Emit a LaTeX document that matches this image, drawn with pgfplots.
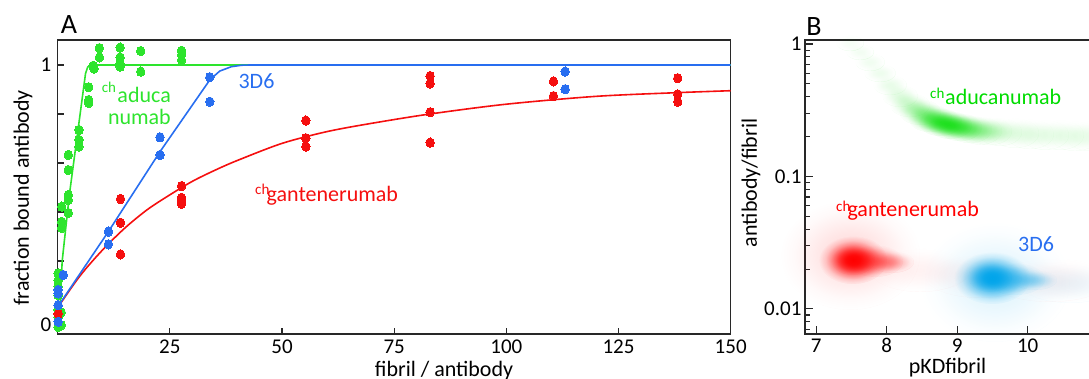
\documentclass[border=0pt]{standalone}
\usepackage{pgfplots}
\pgfplotsset{compat=1.18}
\usepackage{fontspec}
\setmainfont{Carlito}
\usetikzlibrary{fadings}
\definecolor{cgreen}{RGB}{45,228,45}
\definecolor{cred}{RGB}{245,15,15}
\definecolor{cblue}{RGB}{40,110,240}
\definecolor{bgreen}{RGB}{0,220,0}
\definecolor{bred}{RGB}{255,0,0}
\definecolor{bblue}{RGB}{0,165,235}
\definecolor{axc}{RGB}{40,40,40}
\newcommand\lab{\fontsize{22}{26}\selectfont}
\newcommand\supf{\fontsize{15}{17}\selectfont}

\pgfdeclareradialshading{glowshade}{\pgfpointorigin}{color(0bp)=(white); color(5bp)=(white!92!black); color(10bp)=(white!70!black); color(15bp)=(white!42!black); color(20bp)=(white!15!black); color(25bp)=(black); color(50bp)=(black)}
\pgfdeclarefading{glow}{\pgfuseshading{glowshade}}
\pgfdeclareplotmark{glowR}{\fill[bred, fill opacity=\glowop, path fading=glow] (0pt,0pt) ellipse [x radius=\glowrx pt, y radius=\glowry pt];}
\pgfdeclareplotmark{glowG}{\fill[bgreen, fill opacity=\glowop, path fading=glow] (0pt,0pt) ellipse [x radius=\glowrx pt, y radius=\glowry pt];}
\pgfdeclareplotmark{glowB}{\fill[bblue, fill opacity=\glowop, path fading=glow] (0pt,0pt) ellipse [x radius=\glowrx pt, y radius=\glowry pt];}

\pgfplotsset{
  glowplot/.style={only marks, scatter, mark=#1,
    scatter/@pre marker code/.code={}, scatter/@post marker code/.code={},
    visualization depends on={\thisrow{rx}\as\glowrx},
    visualization depends on={\thisrow{ry}\as\glowry},
    visualization depends on={\thisrow{op}\as\glowop}},
  dots/.style={color=#1, only marks, mark=*, mark size=4.2pt, mark options={draw=#1, fill=#1, line width=0pt, yscale=1.12}},
}

\pgfplotstableread{
x y rx ry op
7.481 1.017 14 8 0.04
7.623 0.870 14 8 0.05
7.764 0.731 15 9 0.06
7.906 0.604 16 9 0.07
8.048 0.490 17 10 0.09
8.190 0.405 18 11 0.13
8.331 0.346 20 12 0.20
8.473 0.307 21 13 0.32
8.615 0.276 22 14 0.50
8.757 0.258 22 14 0.68
8.898 0.245 22 14 0.70
9.040 0.236 22 14 0.55
9.182 0.228 22 14 0.38
9.324 0.222 22 14 0.25
9.465 0.220 22 14 0.16
9.607 0.217 22 14 0.11
9.820 0.213 24 15 0.08
10.032 0.209 24 15 0.07
10.245 0.206 24 15 0.06
10.458 0.206 24 15 0.06
10.670 0.202 24 15 0.06
10.884 0.202 24 15 0.06
}\greenband

\pgfplotstableread{
x y rx ry op
7.481 0.02556 70 55 0.14
8.473 0.01969 50 22 0.05
9.324 0.01774 55 22 0.05
10.316 0.01656 60 22 0.05
7.523 0.02343 34 24 1.0
7.835 0.02302 28 16 0.5
8.076 0.02263 22 11 0.3
7.523 0.02343 22 15 0.6
}\redblob

\pgfplotstableread{
x y rx ry op
9.536 0.01599 75 60 0.13
10.599 0.01571 50 20 0.08
9.494 0.01714 38 26 1.0
9.820 0.01684 30 16 0.5
10.103 0.01656 22 10 0.3
9.465 0.01744 22 15 0.5
}\blueblob

\begin{document}
\begin{tikzpicture}
\begin{axis}[
  at={(57.7pt,45pt)}, anchor=south west, scale only axis,
  width=673pt, height=294pt,
  xmin=0, xmax=150, ymin=-0.098, ymax=1.102,
  axis line style={axc, line width=1.2pt},
  tick style={axc, line width=1.1pt},
  tick align=inside, tick pos=left,
  major tick length=6pt,
  xtick={25,50,75,100,125,150}, xticklabels={25,50,75,100,125,150},
  ytick={0,0.2,0.4,0.6,0.8,1}, yticklabels={,,,,,1},
  extra y ticks={-0.061}, extra y tick labels={0},
  extra y tick style={major tick length=0pt},
  ticklabel style={font=\fontsize{21}{25}\selectfont},
  xticklabel style={yshift=-2pt}, yticklabel style={xshift=-3pt},
  clip=false,
]
% green fit line
\addplot[cgreen, line width=1.6pt] coordinates {
(0.5,0.0) (1.0,0.2) (2.6,0.47) (6.2,0.965) (6.7,0.992) (7.5,1.0) (150,1.0)};
% green points
\addplot[dots=cgreen] coordinates {
(0.1,0.15) (0.1,0.12) (0.1,0.095) (0.1,0.06) (0.1,0.0) (0.1,-0.03) (0.1,-0.07)
(0.8,-0.01) (0.8,-0.062)
(0.9,0.422) (0.9,0.36) (0.9,0.335)
(2.36,0.633) (2.36,0.571) (2.36,0.469) (2.36,0.449) (2.36,0.396)
(4.74,0.735) (4.74,0.694) (4.74,0.667)
(6.9,0.909) (6.9,0.857) (6.9,0.845)
(7.9,0.997) (8.1,0.985)
(9.3,1.069) (9.3,1.031)
(13.9,1.071) (13.9,1.031) (13.9,1.007) (13.9,0.993)
(18.5,1.057) (18.5,0.973)
(27.6,1.058) (27.6,1.041) (27.6,1.02)};
% red fit line
\addplot[cred, line width=1.6pt, smooth] coordinates {
(0,0.01) (5,0.14) (10,0.245) (15,0.335) (20,0.41) (25,0.47) (30,0.525)
(35,0.57) (40,0.61) (50,0.68) (60,0.728) (70,0.762) (83,0.80) (100,0.84)
(120,0.872) (138,0.887) (150,0.895)};
% blue fit line
\addplot[cblue, line width=1.6pt] coordinates {
(0,0.013) (11.3,0.32) (22.8,0.646) (33.9,0.939) (36.1,0.975) (38.7,0.993)
(41,0.999) (43,1.0) (150,1.0)};
% red points
\addplot[dots=cred] coordinates {
(0.1,-0.016)
(14.0,0.453) (14.0,0.356) (14.0,0.227)
(27.6,0.506) (27.6,0.458) (27.6,0.442) (27.6,0.433)
(55.3,0.773) (55.3,0.701) (55.3,0.667)
(83.0,0.955) (83.0,0.925) (83.0,0.807) (83.0,0.683)
(110.5,0.933) (110.5,0.873)
(138.2,0.946) (138.2,0.880) (138.2,0.850)};
% blue points
\addplot[dots=cblue] coordinates {
(1.25,0.143) (0.1,0.082) (0.1,0.068) (0.1,0.02) (0.1,-0.048)
(11.3,0.320) (11.3,0.268) (22.8,0.705) (22.8,0.633)
(33.9,0.950) (33.9,0.850) (113.1,0.973) (113.1,0.901)};
\end{axis}

\begin{axis}[
  at={(805pt,45pt)}, anchor=south west, scale only axis,
  width=289.75pt, height=294pt,
  xmin=6.843, xmax=10.95, ymode=log, ymin=0.00647, ymax=1.072,
  axis line style={axc, line width=1.2pt},
  tick style={axc, line width=1.1pt},
  tick align=inside, tick pos=left,
  major tick length=8pt, minor tick length=4.5pt,
  xtick={7,8,9,10}, xticklabels={7,8,9,10},
  ytick={0.01,0.1,1}, yticklabels={0.01,0.1,1},
  minor ytick={0.007,0.008,0.009,0.02,0.03,0.04,0.05,0.06,0.07,0.08,0.09,0.2,0.3,0.4,0.5,0.6,0.7,0.8,0.9},
  ticklabel style={font=\fontsize{21}{25}\selectfont},
  xticklabel style={yshift=-1pt}, yticklabel style={xshift=0pt},
]
\addplot[glowplot=glowG] table[x=x,y=y] {\greenband};
\addplot[glowplot=glowR] table[x=x,y=y] {\redblob};
\addplot[glowplot=glowB] table[x=x,y=y] {\blueblob};
\end{axis}

% panel letters and axis labels
\node[font=\fontsize{28}{30}\selectfont, inner sep=0] at (69pt,354pt) {A};
\node[font=\fontsize{28}{30}\selectfont, inner sep=0] at (814pt,352pt) {B};
\node[rotate=90, font=\lab, inner sep=0] at (23pt,181pt) {fraction bound antibody};
\node[font=\lab, anchor=base, inner sep=0] at (444pt,2pt) {fibril / antibody};
\node[font=\lab, anchor=base, inner sep=0] at (947.5pt,5pt) {pKDfibril};
\node[rotate=90, font=\lab, inner sep=0] at (751pt,196pt) {antibody/fibril};
% panel A annotations
\node[cgreen, font=\supf, anchor=base west, inner sep=0] at (101.7pt,286pt) {ch};
\node[cgreen, font=\lab, anchor=base east, inner sep=0] at (171pt,276pt) {aduca};
\node[cgreen, font=\lab, anchor=base east, inner sep=0] at (171pt,254pt) {numab};
\node[cblue, font=\lab, anchor=base, inner sep=0] at (256.5pt,290.7pt) {3D6};
\node[cred, font=\supf, anchor=base west, inner sep=0] at (255pt,184pt) {ch};
\node[cred, font=\lab, anchor=base west, inner sep=0] at (266.5pt,177.3pt) {gantenerumab};
% panel B annotations
\node[bgreen, font=\supf, anchor=base west, inner sep=0] at (930pt,280pt) {ch};
\node[bgreen, font=\lab, anchor=base west, inner sep=0] at (945pt,274pt) {aducanumab};
\node[bred, font=\supf, anchor=base west, inner sep=0] at (836pt,167pt) {ch};
\node[bred, font=\lab, anchor=base west, inner sep=0] at (847.3pt,162.3pt) {gantenerumab};
\node[cblue, font=\lab, anchor=base west, inner sep=0] at (1018pt,127pt) {3D6};

\pgfresetboundingbox
\path[use as bounding box] (0pt,0pt) rectangle (1089pt,379pt);
\end{tikzpicture}
\end{document}
